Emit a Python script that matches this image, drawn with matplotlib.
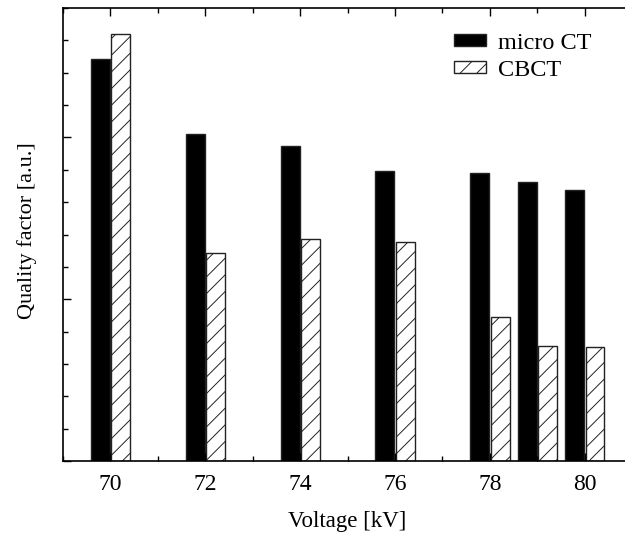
import numpy as np
import matplotlib
matplotlib.use('Agg')
import matplotlib.pyplot as plt
from matplotlib.ticker import MultipleLocator, NullFormatter

voltages = [70, 72, 74, 76, 78, 79, 80]
micro_ct = [12.41, 10.12, 9.75, 8.95, 8.89, 8.61, 8.36]
cbct = [13.19, 6.44, 6.87, 6.78, 4.46, 3.56, 3.53]


def main():
	plt.rcParams['font.family'] = ['Liberation Serif', 'DejaVu Serif']
	plt.rcParams['hatch.linewidth'] = 0.7
	fs = 17

	fig = plt.figure(figsize=(6.25, 5.35), dpi=100)
	ax = fig.add_axes([63 / 625, 74 / 535, 569 / 625, 453 / 535])

	x = np.array(voltages, dtype=float)
	ax.bar(x - 0.21, micro_ct, width=0.4, color='black', edgecolor='#222222',
		linewidth=1.0, label='micro CT')
	ax.bar(x + 0.22, cbct, width=0.4, color='white', edgecolor='#222222',
		linewidth=1.0, hatch='//', label='CBCT')

	ax.set_xlim(69, 81)
	ax.set_ylim(0, 14)

	ax.xaxis.set_major_locator(MultipleLocator(2))
	ax.xaxis.set_minor_locator(MultipleLocator(1))
	ax.yaxis.set_major_locator(MultipleLocator(5))
	ax.yaxis.set_minor_locator(MultipleLocator(1))
	ax.yaxis.set_major_formatter(NullFormatter())

	ax.tick_params(which='both', direction='in', top=True, right=False,
		labelsize=fs, width=1.0, pad=9)
	ax.tick_params(which='major', length=6)
	ax.tick_params(which='minor', length=3.5)

	for s in ax.spines.values():
		s.set_linewidth(1.2)

	ax.set_xlabel('Voltage [kV]', fontsize=16.5, labelpad=12)
	ax.set_ylabel('Quality factor [a.u.]', fontsize=16)
	ax.yaxis.set_label_coords(-0.045, 0.508)

	ax.legend(loc='upper left', bbox_to_anchor=(0.67, 0.967), frameon=False,
		fontsize=17.5, handlelength=1.3, handleheight=0.4, labelspacing=0.25,
		handletextpad=0.5, borderaxespad=0)

	fig.savefig('out.png', dpi=100)


if __name__ == '__main__':
	main()
